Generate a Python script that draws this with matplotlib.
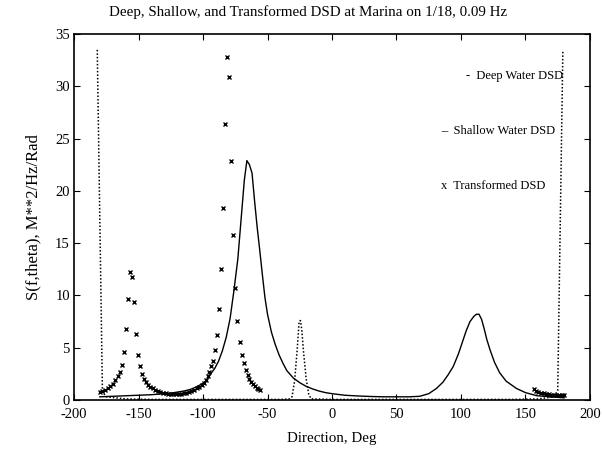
"""Deep, shallow and transformed DSD at Marina (1/18, 0.09 Hz)."""

import matplotlib
matplotlib.use("Agg")
import matplotlib.pyplot as plt

# Deep water DSD (dotted line)
deep_dir = [-182, -178, -175, -160, -140, -120, -100, -80, -60, -40, -33,
            -31, -29, -27, -25.5, -24.5, -23.5, -22, -20, -18, -16, 0, 20,
            40, 60, 80, 100, 120, 140, 160, 172, 175, 179]
deep_s = [33.5, 0.8, 0.3, 0.1, 0.05, 0.05, 0.05, 0.05, 0.05, 0.05, 0.1,
          0.3, 1.8, 4.8, 7.5, 7.6, 6.8, 4.5, 2.0, 0.5, 0.1, 0.05, 0.05,
          0.05, 0.05, 0.05, 0.05, 0.05, 0.05, 0.1, 0.3, 0.9, 33.5]

# Shallow water DSD (solid line)
shallow_dir = [-180, -170, -160, -150, -140, -130, -125, -120, -115, -110,
               -105, -100, -97, -94, -91, -88, -85, -82, -79, -76, -73, -70,
               -68, -66, -64, -62, -60, -58, -56, -54, -52, -50, -47, -44,
               -41, -38, -35, -30, -25, -20, -15, -10, -5, 0, 10, 20, 30, 40,
               50, 60, 68, 75, 81, 86, 90, 94, 98, 101, 104, 107, 110, 112,
               114, 116, 118, 120, 122.5, 126, 130, 135, 143, 150, 159, 170,
               180]
shallow_s = [0.3, 0.35, 0.4, 0.45, 0.5, 0.6, 0.65, 0.75, 0.85, 1.0,
             1.25, 1.6, 1.9, 2.5, 3.0, 3.7, 4.7, 6.0, 7.8, 10.5, 13.5, 18.0,
             21.0, 22.9, 22.5, 21.7, 19.0, 16.5, 14.3, 12.0, 9.8, 8.2, 6.5,
             5.3, 4.3, 3.5, 2.8, 2.1, 1.65, 1.3, 1.05, 0.85, 0.7, 0.6, 0.45,
             0.38, 0.33, 0.3, 0.3, 0.3, 0.35, 0.6, 1.1, 1.7, 2.4, 3.2, 4.4,
             5.5, 6.6, 7.5, 8.0, 8.2, 8.2, 7.7, 6.8, 5.8, 4.8, 3.6, 2.6, 1.8,
             1.1, 0.7, 0.4, 0.3, 0.2]

# Transformed DSD (x markers)
trans_dir = [-180, -178, -176, -174, -172, -170, -168, -166, -164, -162.5,
             -161, -159.5, -158, -156.5, -155, -153.5, -152, -150.5, -149,
             -147.5, -146, -144.5, -143, -141, -139, -137, -135, -133, -131,
             -129, -127, -125, -123, -121, -119, -117, -115, -113, -111,
             -109, -107, -105, -103, -101, -99.5, -98, -96.5, -95, -93.8,
             -92.3, -90.7, -89.1, -87.6, -86, -84.5, -83, -81.4, -79.8,
             -78.2, -76.7, -75.1, -73.5, -71.5, -69.8, -68.2, -66.8, -65.4,
             -64, -62.6, -61.2, -59.8, -58.4, -57, -56,
             157, 158.5, 160, 162, 164, 166, 168, 170, 172, 174, 176, 178,
             180]
trans_s = [0.75, 0.85, 0.95, 1.1, 1.3, 1.55, 1.9, 2.3, 2.7, 3.3,
           4.6, 6.8, 9.7, 12.2, 11.8, 9.4, 6.3, 4.3, 3.2,
           2.5, 2.0, 1.7, 1.45, 1.25, 1.1, 0.95, 0.85, 0.75, 0.68,
           0.62, 0.58, 0.55, 0.53, 0.55, 0.57, 0.6, 0.65, 0.7, 0.78,
           0.87, 0.97, 1.1, 1.25, 1.45, 1.65, 1.9, 2.3, 2.7, 3.2,
           3.7, 4.8, 6.2, 8.7, 12.5, 18.4, 26.4, 32.8, 30.9,
           22.9, 15.8, 10.7, 7.6, 5.5, 4.3, 3.5, 2.9, 2.4,
           2.0, 1.7, 1.5, 1.3, 1.15, 1.05, 0.95,
           1.0, 0.85, 0.75, 0.7, 0.65, 0.6, 0.55, 0.52, 0.5, 0.48, 0.47, 0.46,
           0.45]

x_ticks = [-200, -150, -100, -50, 0, 50, 100, 150, 200]
y_ticks = [0, 5, 10, 15, 20, 25, 30, 35]

plt.rcParams["font.family"] = ["Liberation Serif", "DejaVu Serif"]
plt.rcParams["font.size"] = 10
plt.rcParams["axes.unicode_minus"] = False

fig = plt.figure(figsize=(6.02, 4.55), dpi=100)
ax = fig.add_axes([0.123, 0.121, 0.857, 0.804])

ax.plot(deep_dir, deep_s, color="black", linestyle=(0, (1, 1.3)), linewidth=1.1)
ax.plot(shallow_dir, shallow_s, color="black", linestyle="-", linewidth=1.0)
ax.plot(trans_dir, trans_s, color="black", linestyle="none", marker="x",
        markersize=3.3, markeredgewidth=1.0)

ax.set_xlim(-200, 200)
ax.set_ylim(0, 35)
ax.set_xticks(x_ticks)
ax.set_yticks(y_ticks)
ax.tick_params(direction="in", top=True, right=True, length=4, width=0.8,
               labelsize=10.5)
ax.tick_params(axis="x", pad=6)
ax.tick_params(axis="y", pad=3)
for spine in ax.spines.values():
    spine.set_linewidth(1.2)

fig.text(0.512, 0.973, "Deep, Shallow, and Transformed DSD at Marina on 1/18, 0.09 Hz",
         fontsize=10.8, ha="center", va="center")
ax.set_xlabel("Direction, Deg", fontsize=10.8, labelpad=8)
ax.set_ylabel("S(f,theta), M**2/Hz/Rad", fontsize=12, labelpad=10)

# legend written as plain text entries, as in the original
ax.text(0.760, 0.885, "-  Deep Water DSD", transform=ax.transAxes,
        fontsize=9, va="center")
ax.text(0.711, 0.735, "–  Shallow Water DSD", transform=ax.transAxes,
        fontsize=9, va="center")
ax.text(0.711, 0.585, "x  Transformed DSD", transform=ax.transAxes,
        fontsize=9, va="center")

fig.savefig("out.png", dpi=100)
